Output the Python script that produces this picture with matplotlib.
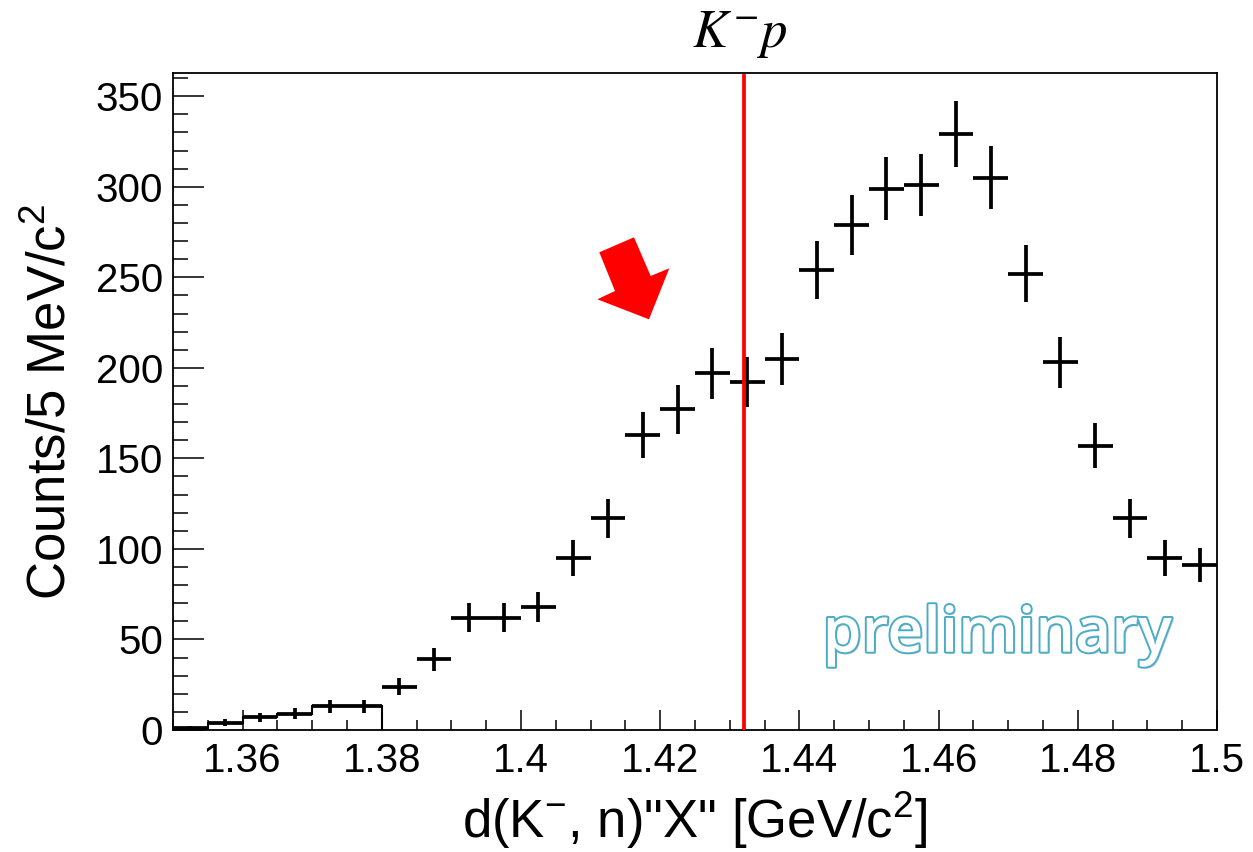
import numpy as np
import matplotlib
matplotlib.use("Agg")
import matplotlib.pyplot as plt
from matplotlib.ticker import MultipleLocator, FixedLocator
from matplotlib.patches import Polygon
import matplotlib.patheffects as pe

# ---------------- data ----------------
bin_low = 1.35
bin_high = 1.50
n_bins = 30
counts = [1, 4, 7, 9, 13, 13, 24, 39, 62, 62,
          68, 95, 117, 163, 177, 197, 192, 205, 254, 279,
          299, 301, 329, 305, 252, 203, 157, 117, 95, 91]
n_outline_bins = 6          # bins drawn also as a step outline (1.35-1.38)
threshold = 1.432           # K- p threshold [GeV/c^2]
xtick_vals = [1.36, 1.38, 1.40, 1.42, 1.44, 1.46, 1.48, 1.50]
xtick_labels = ["1.36", "1.38", "1.4", "1.42", "1.44", "1.46", "1.48", "1.5"]
ytick_vals = [0, 50, 100, 150, 200, 250, 300, 350]

plt.rcParams['font.family'] = ['Liberation Sans', 'DejaVu Sans']
plt.rcParams['mathtext.fontset'] = 'custom'
plt.rcParams['mathtext.rm'] = 'Liberation Sans'
plt.rcParams['mathtext.it'] = 'Liberation Sans:italic'
plt.rcParams['mathtext.bf'] = 'Liberation Sans:bold'

W, H = 1253, 852
fig = plt.figure(figsize=(W / 100, H / 100), dpi=100)
ax = fig.add_axes([173 / W, 1 - 730 / H, 1044 / W, (730 - 72.7) / H])

edges = np.linspace(bin_low, bin_high, n_bins + 1)
centers = 0.5 * (edges[:-1] + edges[1:])
half_w = 0.5 * (edges[1] - edges[0])
cnt = np.array(counts, dtype=float)
errs = np.sqrt(cnt)  # Poisson errors

ax.stairs(cnt[:n_outline_bins], edges[:n_outline_bins + 1], baseline=0,
          color='black', lw=1.5, zorder=2)
ax.errorbar(centers, cnt, xerr=half_w, yerr=errs, fmt='none', ecolor='black',
            elinewidth=2.7, capsize=0, zorder=3)

ax.axvline(threshold, ymin=0, ymax=0.995, color='#ff0000', lw=2.7, zorder=4)

ax.set_xlim(bin_low, bin_high)
ax.set_ylim(0, 363)
ax.xaxis.set_major_locator(FixedLocator(xtick_vals))
ax.set_xticklabels(xtick_labels)
ax.xaxis.set_minor_locator(MultipleLocator(0.005))
ax.yaxis.set_major_locator(FixedLocator(ytick_vals))
ax.yaxis.set_minor_locator(MultipleLocator(10))

ax.tick_params(axis='both', which='both', direction='in', top=False, right=False,
               width=1.1, color='black', labelsize=29)
ax.tick_params(axis='x', which='major', length=14.5, pad=9)
ax.tick_params(axis='x', which='minor', length=7.2)
ax.tick_params(axis='y', which='major', length=22, pad=7)
ax.tick_params(axis='y', which='minor', length=11)
for s in ax.spines.values():
    s.set_linewidth(1.3)
    s.set_color('black')

ax.set_xlabel(r'd(K$^{-}$, n)"X" [GeV/c$^{2}$]', fontsize=38, labelpad=7)
ax.set_ylabel(r'Counts/5 MeV/c$^{2}$', fontsize=38, labelpad=14)

# K- p label above the threshold line
fig.text(739.5 / W, 1 - 47 / H, r'$K^{-}p$', fontsize=38, ha='center',
         va='baseline', math_fontfamily='stix')

# red block arrow (annotation)
arrow_px = [(599.3, 252.3), (634.0, 237.3), (650.7, 276.0), (669.3, 268.3),
            (649.0, 319.3), (597.3, 299.3), (615.0, 291.0)]
arrow_fig = [(x / W, 1 - y / H) for x, y in arrow_px]
fig.patches.append(Polygon(arrow_fig, closed=True, transform=fig.transFigure,
                           facecolor='#ff0000', edgecolor='none', zorder=5))

# preliminary watermark
ax.text((822.7 - 173) / 1044, (730 - 651.7) / (730 - 72.7), 'preliminary',
        transform=ax.transAxes, fontsize=45, family='Open Sans', fontweight='semibold',
        color='white', ha='left', va='baseline', zorder=6,
        path_effects=[pe.SimplePatchShadow(offset=(1.5, -1.5), shadow_rgbFace='#808080', alpha=0.35),
                      pe.Stroke(linewidth=2.8, foreground='#4BACC6'),
                      pe.Normal()])

fig.savefig('out.png', dpi=100)
